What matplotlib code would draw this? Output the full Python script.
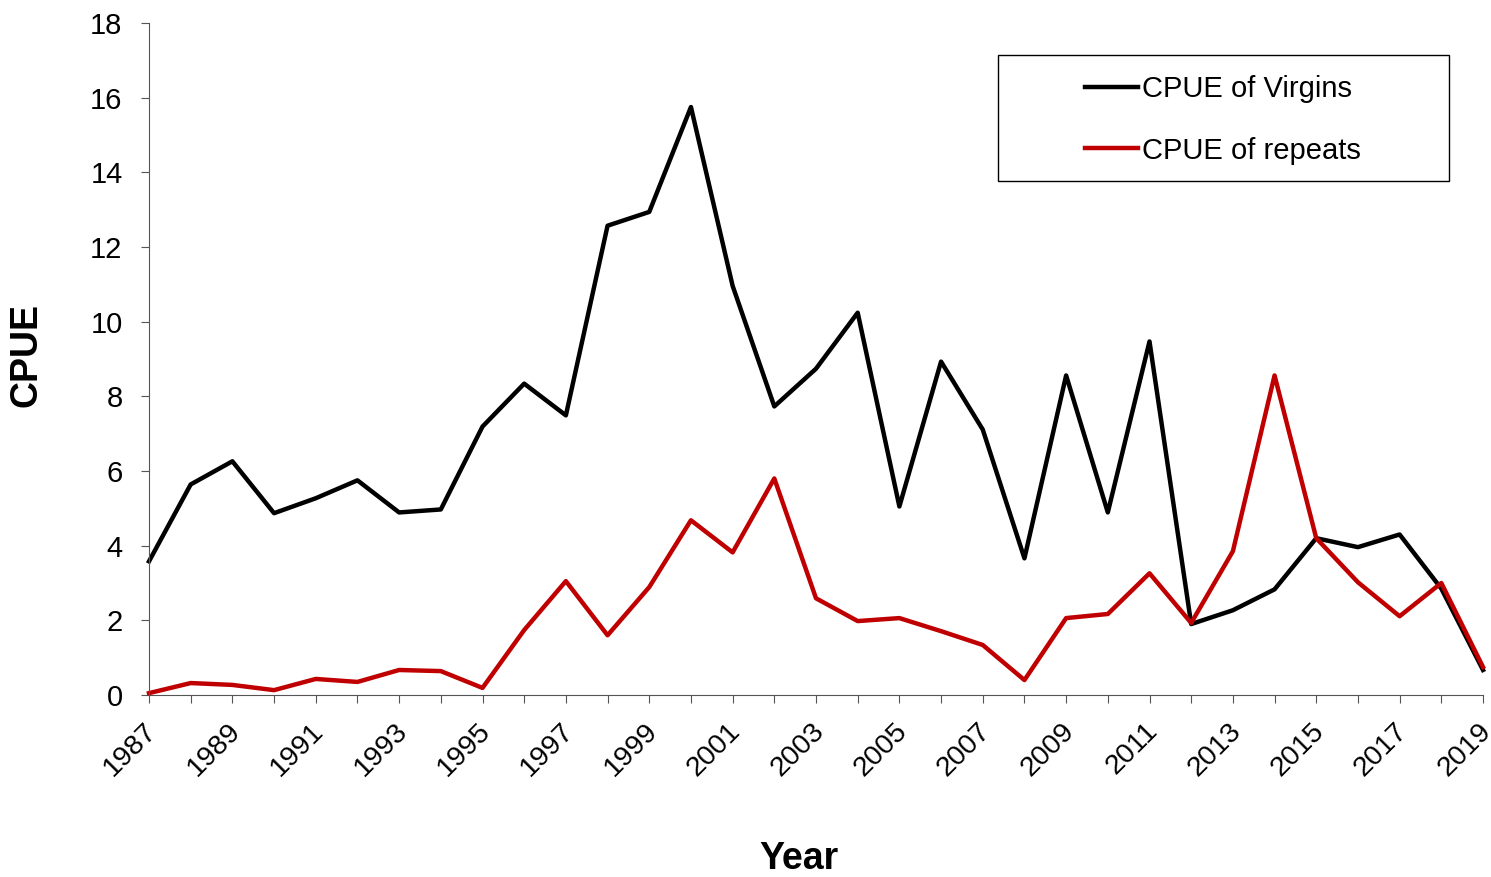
import numpy as np
import matplotlib.pyplot as plt
from matplotlib.patches import Rectangle
from matplotlib.transforms import ScaledTranslation

plt.rcParams['font.family'] = ['Liberation Sans', 'DejaVu Sans']

years = np.arange(1987, 2020)
virgins = [3.58, 5.64, 6.26, 4.87, 5.27, 5.75, 4.89, 4.97, 7.19, 8.34, 7.49,
           12.57, 12.94, 15.75, 10.96, 7.73, 8.74, 10.24, 5.05, 8.93, 7.11,
           3.66, 8.56, 4.89, 9.47, 1.90, 2.27, 2.83, 4.20, 3.96, 4.30, 2.85, 0.67]
repeats = [0.05, 0.32, 0.27, 0.13, 0.43, 0.35, 0.67, 0.64, 0.19, 1.74, 3.05,
           1.60, 2.89, 4.68, 3.82, 5.80, 2.59, 1.98, 2.06, 1.71, 1.34,
           0.40, 2.06, 2.17, 3.26, 1.93, 3.85, 8.56, 4.20, 3.02, 2.11, 3.00, 0.75]
label_years = years[::2]

W, H = 1491, 877
fig = plt.figure(figsize=(W / 100, H / 100), dpi=100)
ax = fig.add_axes([149 / W, 1 - 695 / H, (1483 - 149) / W, (695 - 23) / H])

ax.plot(years, virgins, color='black', lw=3.2, label='CPUE of Virgins', clip_on=False)
ax.plot(years, repeats, color='#c00000', lw=3.2, label='CPUE of repeats', clip_on=False)

ax.set_xlim(1987, 2019)
ax.set_ylim(0, 18)
ax.set_yticks(range(0, 19, 2))
ax.set_xticks(years)
ax.set_xticklabels([])
ax.tick_params(axis='both', which='both', labelsize=21, direction='out',
               length=6, color='#555555')
ax.tick_params(axis='y', pad=13)

# rotated year labels, placed by hand so they can be nudged
off = ax.get_xaxis_transform() + ScaledTranslation(-5 / 100, -23 / 100, fig.dpi_scale_trans)
for yr in label_years:
    ax.text(yr, 0, str(yr), transform=off, rotation=45, ha='right', va='top',
            rotation_mode='anchor', fontsize=20.5, clip_on=False)

for s in ['top', 'right']:
    ax.spines[s].set_visible(False)
for s in ['left', 'bottom']:
    ax.spines[s].set_color('#555555')

ax.set_ylabel('CPUE', fontsize=27, fontweight='bold')
ax.yaxis.set_label_coords(-0.078, 0.506)
ax.set_xlabel('Year', fontsize=27, fontweight='bold')
ax.xaxis.set_label_coords(0.487, -0.218)

# legend box drawn separately, text sits left of centre inside it
fig.patches.append(Rectangle((998 / W, 1 - 181 / H), (1449 - 998) / W, (181 - 55) / H,
                             transform=fig.transFigure, fill=False,
                             edgecolor='black', lw=1))
ax.legend(loc='upper left', bbox_to_anchor=(1085 / W, 1 - 75 / H),
          bbox_transform=fig.transFigure, fontsize=21, frameon=False,
          borderpad=0, borderaxespad=0, labelspacing=1.15,
          handlelength=1.8, handletextpad=0.15)

fig.savefig('out.png', dpi=100)
